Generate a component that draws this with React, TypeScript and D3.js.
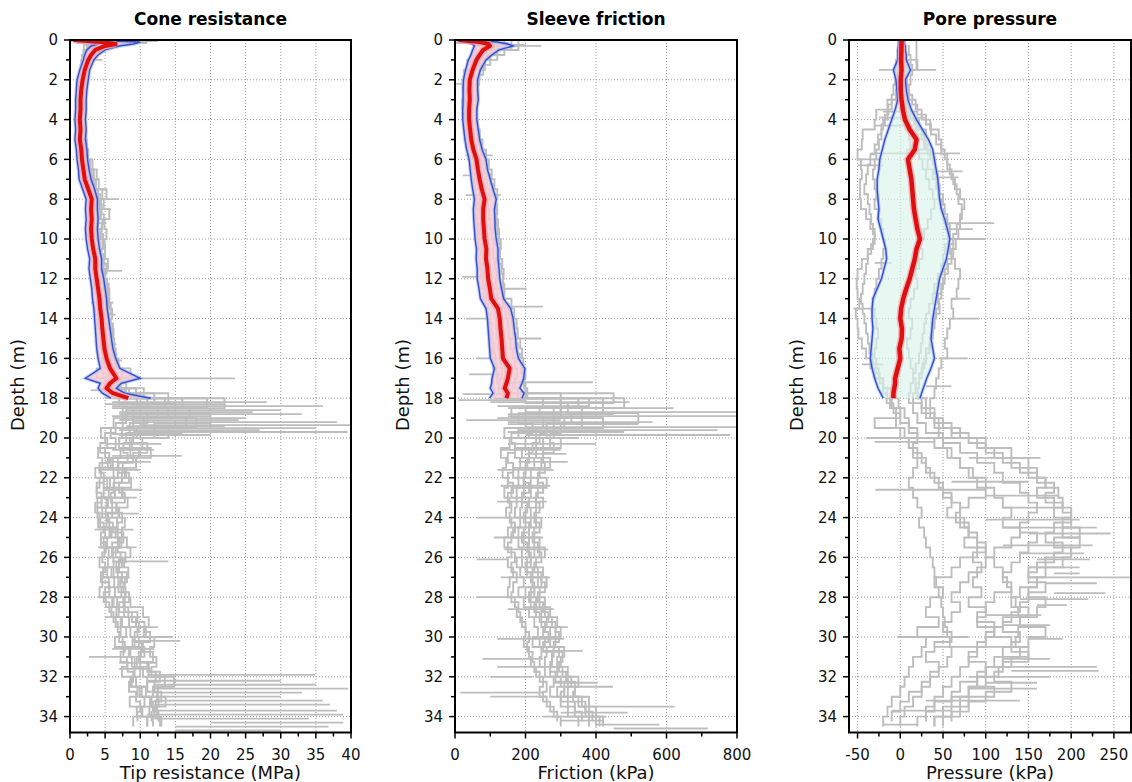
import React from "react";
import * as d3 from "d3";

// ---------- tick labels ----------
const depthTicks = [0, 2, 4, 6, 8, 10, 12, 14, 16, 18, 20, 22, 24, 26, 28, 30, 32, 34];
const coneTicks = [0, 5, 10, 15, 20, 25, 30, 35, 40];
const frictionTicks = [0, 200, 400, 600, 800];
const poreTicks = [-50, 0, 50, 100, 150, 200, 250];

// ---------- mean +/- std profiles (0-18 m) ----------
const meanDepth = [0, 0.1, 0.2, 0.3, 0.5, 0.75, 1, 1.5, 2, 2.5, 3, 3.5, 4, 4.5, 5, 5.5, 6, 6.5, 7, 7.5, 8, 8.5, 9, 9.5, 10, 10.5, 11, 11.5, 12, 12.5, 13, 13.5, 14, 14.5, 15, 15.5, 16, 16.5, 17, 17.25, 17.5, 17.75, 18];

const coneMean = [0.5, 4.5, 6.5, 5.0, 3.6, 3.0, 2.6, 2.1, 1.8, 1.6, 1.5, 1.5, 1.4, 1.5, 1.4, 1.6, 1.7, 1.9, 2.1, 2.6, 3.1, 3.0, 3.1, 3.0, 3.1, 3.3, 3.6, 3.6, 3.8, 4.0, 4.2, 4.3, 4.5, 4.6, 4.75, 4.9, 5.2, 5.7, 6.6, 5.7, 5.2, 6.1, 8.3];
const coneLo = [0.2, 2.5, 4.0, 3.0, 2.4, 2.1, 1.9, 1.4, 1.0, 0.9, 0.8, 0.8, 0.7, 0.8, 0.7, 0.9, 1.0, 1.2, 1.3, 1.8, 2.3, 2.2, 2.3, 2.2, 2.3, 2.5, 2.8, 2.7, 2.9, 3.1, 3.2, 3.4, 3.5, 3.6, 3.7, 3.8, 4.0, 4.3, 2.2, 4.3, 4.0, 4.6, 5.8];
const coneHi = [1.5, 10.0, 9.0, 7.0, 5.0, 4.0, 3.4, 2.8, 2.6, 2.4, 2.3, 2.3, 2.2, 2.3, 2.2, 2.4, 2.5, 2.7, 3.0, 3.5, 3.9, 3.9, 4.0, 3.9, 4.0, 4.2, 4.5, 4.5, 4.8, 5.0, 5.2, 5.3, 5.5, 5.7, 5.9, 6.1, 6.5, 7.1, 10.0, 7.3, 6.6, 7.8, 11.5];

const frictionMean = [10, 70, 95, 99, 80, 70, 61, 50, 42, 41, 42, 40, 40, 43, 46, 52, 61, 65, 70, 76, 84, 80, 80, 82, 84, 89, 88, 92, 94, 99, 103, 122, 127, 129, 132, 134, 136, 155, 150, 146, 141, 150, 146];
const frictionLo = [2, 30, 50, 55, 50, 45, 38, 30, 24, 23, 23, 22, 22, 25, 28, 33, 40, 43, 46, 50, 55, 52, 53, 55, 57, 61, 60, 63, 63, 68, 72, 88, 92, 94, 96, 98, 100, 112, 105, 104, 100, 108, 98];
const frictionHi = [25, 120, 150, 165, 125, 105, 88, 72, 64, 64, 66, 62, 62, 66, 70, 77, 88, 92, 100, 108, 117, 112, 113, 114, 117, 122, 122, 125, 127, 132, 138, 158, 165, 168, 172, 174, 180, 198, 195, 190, 184, 196, 190];

const poreMean = [1.6, 1.5, 1.5, 1.4, 1.3, 1.2, 1.0, 1.5, 0.5, 0.5, 1.5, 3.0, 5.5, 11, 19, 17, 9, 11, 13, 14, 15, 16, 18, 20, 23, 19, 17, 14, 11, 7, 3.5, 1, 0, 2, 1.6, -1, 0, -3, -6, -6, -7, -8, -8];
const poreLo = [-2, -2, -2, -2, -3, -3, -3, -8, -5, -4, -3, -6, -10, -14, -18, -21, -24, -25, -27, -27, -26, -25, -26, -23, -20, -17, -16, -19, -22, -27, -32, -33, -33, -32, -33, -34, -35, -33, -30, -28, -26, -23, -20];
const poreHi = [5, 5, 5, 6, 6, 7, 7, 12, 6, 7, 9, 13, 19, 26, 33, 38, 40, 42, 44, 45, 46, 48, 52, 55, 58, 56, 54, 50, 46, 44, 42, 40, 38, 37, 36, 38, 40, 36, 31, 29, 27, 25, 23];

// ---------- individual soundings (grey) ----------
const traceDepth = [
  0, 0.5, 1, 1.5, 2, 2.5, 3, 3.5, 4, 4.5,
  5, 5.5, 6, 6.5, 7, 7.5, 8, 8.5, 9, 9.5,
  10, 10.5, 11, 11.5, 12, 12.5, 13, 13.5, 14, 14.5,
  15, 15.5, 16, 16.5, 17, 17.5, 18, 18.5, 19, 19.5,
  20, 20.5, 21, 21.5, 22, 22.5, 23, 23.5, 24, 24.5,
  25, 25.5, 26, 26.5, 27, 27.5, 28, 28.5, 29, 29.5,
  30, 30.5, 31, 31.5, 32, 32.5, 33, 33.5, 34, 34.5];
const traceDepthB = [
  0.25, 0.75, 1.25, 1.75, 2.25, 2.75, 3.25, 3.75, 4.25, 4.75,
  5.25, 5.75, 6.25, 6.75, 7.25, 7.75, 8.25, 8.75, 9.25, 9.75,
  10.25, 10.75, 11.25, 11.75, 12.25, 12.75, 13.25, 13.75, 14.25, 14.75,
  15.25, 15.75, 16.25, 16.75, 17.25, 17.75, 18.25, 18.75, 19.25, 19.75,
  20.25, 20.75, 21.25, 21.75, 22.25, 22.75, 23.25, 23.75, 24.25, 24.75,
  25.25, 25.75, 26.25, 26.75, 27.25, 27.75, 28.25, 28.75, 29.25, 29.75,
  30.25, 30.75, 31.25, 31.75, 32.25, 32.75, 33.25, 33.75, 34.25];

const coneTraceA = [
  9.5, 4.2, 3.0, 2.4, 2.0, 1.8, 1.6, 1.5, 1.3, 1.5,
  1.6, 1.9, 2.3, 2.8, 3.1, 3.7, 4.6, 4.2, 4.4, 4.0,
  4.3, 4.6, 4.4, 4.8, 4.6, 5.0, 5.3, 5.6, 5.4, 5.8,
  6.0, 6.3, 6.1, 6.6, 7.5, 6.2, 9.4, 16.0, 12.5, 9.0,
  7.4, 8.8, 7.2, 6.1, 6.8, 5.7, 6.4, 5.2, 6.0, 6.7,
  5.9, 7.3, 6.5, 7.0, 6.2, 6.9, 6.4, 7.6, 8.3, 9.4,
  10.5, 9.2, 10.6, 10.0, 11.2, 13.5, 11.8, 12.6, 11.3, 13.0];
const coneTraceB = [
  3.0, 2.6, 1.9, 1.6, 1.4, 1.3, 1.2, 1.1, 1.0, 1.2,
  1.3, 1.5, 1.8, 2.0, 2.3, 2.6, 2.9, 3.1, 2.8, 3.2,
  3.3, 3.0, 3.4, 3.2, 3.6, 3.4, 3.8, 4.0, 4.2, 4.0,
  4.5, 4.3, 4.7, 4.6, 3.8, 4.9, 6.0, 11.0, 7.5, 6.2,
  4.4, 5.3, 4.0, 4.6, 3.6, 4.2, 3.8, 4.5, 3.9, 4.3,
  5.0, 4.4, 4.9, 4.2, 5.3, 4.6, 4.2, 5.1, 5.9, 6.5,
  7.2, 6.4, 7.6, 8.1, 7.4, 8.8, 9.6, 8.5, 10.2, 9.0];
const coneTraceC = [
  5.5, 3.6, 2.8, 2.3, 2.2, 2.4, 2.1, 2.0, 1.9, 2.0,
  2.2, 2.4, 2.6, 3.2, 3.8, 4.1, 5.2, 4.8, 5.6, 4.9,
  5.2, 4.7, 5.0, 5.4, 4.8, 5.3, 5.6, 5.2, 6.0, 5.7,
  6.2, 5.8, 6.5, 6.9, 5.6, 7.2, 10.5, 19.5, 14.0, 16.5,
  9.5, 10.3, 8.6, 9.4, 7.8, 8.7, 7.5, 8.2, 7.0, 7.8,
  7.4, 8.1, 8.6, 7.7, 8.3, 7.2, 7.9, 8.6, 10.4, 11.2,
  10.8, 12.0, 11.4, 12.3, 11.6, 14.8, 12.5, 13.6, 12.0, 12.8];
const coneTraceD = [
  1.5, 3.0, 2.2, 1.9, 1.7, 1.5, 1.4, 1.3, 1.2, 1.4,
  1.5, 1.6, 2.1, 2.5, 2.9, 3.4, 3.6, 3.9, 3.5, 3.9,
  3.7, 4.2, 3.8, 4.0, 4.4, 4.1, 4.6, 4.8, 4.6, 5.0,
  4.8, 5.1, 5.4, 5.2, 6.4, 5.0, 7.8, 13.5, 9.0, 18.0,
  12.0, 7.0, 9.8, 5.4, 6.2, 4.8, 5.5, 3.9, 5.1, 4.0,
  5.6, 4.8, 5.5, 6.2, 4.7, 5.5, 5.0, 6.0, 6.6, 7.2,
  8.6, 9.8, 8.4, 9.2, 10.0, 9.4, 10.8, 11.6, 10.3, 11.0];
const coneTraceE = [
  7.8, 5.0, 3.4, 2.7, 2.4, 2.0, 1.9, 1.8, 1.7, 1.8,
  2.0, 2.1, 2.4, 2.9, 3.4, 3.7, 4.0, 4.4, 4.1, 4.6,
  4.4, 4.9, 4.5, 4.3, 5.0, 4.7, 5.1, 5.4, 5.1, 5.5,
  5.3, 5.7, 6.0, 5.8, 8.6, 6.6, 8.4, 22.0, 17.0, 10.5,
  14.0, 8.5, 11.5, 6.8, 8.0, 6.3, 7.4, 6.0, 6.9, 5.6,
  6.5, 7.0, 6.1, 7.4, 6.8, 7.8, 7.3, 6.7, 7.7, 8.4,
  9.6, 8.9, 10.1, 9.5, 10.4, 11.0, 10.2, 11.4, 12.4, 11.0];
const coneTraceF = [
  0.8, 2.4, 2.0, 1.7, 1.5, 1.4, 1.5, 1.3, 1.4, 1.3,
  1.4, 1.8, 1.7, 2.2, 2.6, 3.0, 3.2, 3.4, 3.3, 3.5,
  3.6, 3.4, 3.7, 3.6, 3.9, 3.8, 4.2, 4.4, 4.3, 4.6,
  4.4, 4.7, 5.0, 4.9, 5.5, 5.3, 6.8, 9.5, 8.0, 7.5,
  5.8, 6.5, 5.0, 5.8, 4.4, 5.3, 4.8, 5.4, 4.6, 5.2,
  5.8, 5.3, 6.0, 5.4, 5.9, 6.3, 5.6, 6.2, 6.9, 7.4,
  8.0, 7.5, 8.6, 8.8, 9.2, 8.6, 9.9, 10.6, 9.5, 11.8];
const coneTraceG = [
  6.0, 3.2, 2.5, 2.0, 1.8, 1.6, 1.5, 1.4, 1.6, 1.5,
  1.7, 1.9, 2.2, 2.6, 3.0, 3.5, 4.0, 3.7, 3.9, 3.6,
  4.0, 4.2, 3.9, 4.3, 4.5, 4.3, 4.9, 5.0, 4.8, 5.3,
  5.1, 5.5, 5.7, 5.9, 6.8, 7.0, 12.0, 15.0, 11.0, 8.5,
  9.0, 7.6, 8.2, 6.9, 7.4, 6.2, 5.8, 6.6, 5.4, 6.1,
  6.8, 6.0, 7.2, 6.6, 7.4, 6.9, 7.8, 7.0, 8.8, 9.8,
  9.2, 10.4, 9.8, 11.0, 12.2, 11.0, 12.4, 11.8, 12.6];
const coneTraceH = [
  2.2, 2.0, 1.7, 1.5, 1.3, 1.2, 1.1, 1.2, 1.1, 1.3,
  1.4, 1.6, 1.9, 2.1, 2.5, 2.8, 3.2, 3.0, 3.3, 3.1,
  3.4, 3.2, 3.6, 3.5, 3.8, 3.9, 4.1, 4.3, 4.0, 4.4,
  4.6, 4.5, 4.8, 4.6, 5.2, 4.8, 7.0, 10.0, 8.0, 6.5,
  5.0, 4.3, 5.6, 4.2, 4.8, 3.8, 4.5, 3.6, 4.2, 4.8,
  4.4, 5.1, 4.6, 5.0, 4.4, 5.6, 4.8, 5.6, 6.2, 6.8,
  7.0, 7.8, 7.2, 8.2, 9.0, 8.4, 9.4, 10.0, 9.6];
const coneTraceI = [
  4.0, 2.9, 2.3, 2.1, 1.9, 1.8, 1.7, 1.6, 1.5, 1.7,
  1.8, 2.0, 2.3, 2.7, 3.2, 3.6, 4.3, 4.5, 4.8, 4.5,
  4.7, 5.0, 4.8, 5.2, 5.0, 5.5, 5.4, 5.8, 5.6, 6.1,
  5.9, 6.3, 6.6, 6.3, 7.4, 8.0, 14.0, 9.0, 20.0, 12.0,
  8.0, 11.0, 9.0, 7.5, 8.4, 7.0, 7.8, 6.6, 7.4, 6.8,
  7.6, 6.8, 7.9, 7.0, 8.1, 7.6, 8.4, 7.8, 9.6, 10.6,
  11.4, 10.2, 11.8, 11.2, 12.8, 12.0, 13.0, 12.2, 11.6];

const frictionTraceA = [
  20, 140, 90, 60, 45, 40, 42, 38, 36, 40,
  45, 52, 58, 64, 70, 76, 86, 82, 80, 84,
  86, 92, 90, 94, 98, 102, 106, 118, 126, 130,
  132, 136, 140, 148, 150, 144, 150, 380, 240, 310,
  210, 230, 190, 205, 180, 195, 175, 190, 185, 200,
  180, 195, 210, 190, 205, 220, 200, 215, 230, 245,
  250, 240, 260, 255, 270, 300, 290, 320, 340, 380];
const frictionTraceB = [
  5, 60, 50, 35, 25, 22, 24, 20, 22, 25,
  28, 32, 38, 44, 48, 52, 56, 60, 58, 62,
  64, 68, 66, 72, 74, 78, 82, 86, 92, 96,
  98, 100, 104, 108, 110, 106, 112, 250, 160, 200,
  140, 155, 130, 145, 135, 150, 140, 155, 145, 160,
  150, 140, 160, 150, 165, 155, 150, 170, 175, 190,
  200, 195, 210, 215, 230, 250, 240, 260, 280, 300];
const frictionTraceC = [
  60, 180, 120, 85, 70, 65, 66, 62, 60, 64,
  70, 78, 88, 96, 104, 112, 120, 116, 118, 122,
  125, 130, 128, 134, 138, 136, 140, 160, 168, 175,
  178, 185, 190, 194, 200, 196, 205, 480, 360, 420,
  280, 300, 250, 270, 240, 260, 235, 250, 230, 245,
  225, 240, 255, 230, 250, 260, 240, 255, 270, 290,
  300, 285, 310, 300, 320, 350, 340, 380, 400, 420];
const frictionTraceD = [
  30, 100, 70, 50, 38, 34, 36, 32, 30, 33,
  38, 44, 50, 56, 62, 66, 72, 70, 74, 76,
  78, 84, 82, 88, 90, 92, 96, 104, 112, 116,
  118, 122, 126, 130, 134, 128, 136, 300, 200, 360,
  180, 200, 170, 185, 165, 180, 160, 175, 170, 185,
  165, 180, 190, 175, 185, 195, 180, 195, 210, 225,
  235, 220, 245, 240, 255, 280, 270, 300, 320, 350];
const frictionTraceE = [
  10, 120, 80, 55, 42, 38, 40, 36, 34, 37,
  42, 48, 54, 60, 66, 72, 80, 76, 78, 80,
  82, 88, 86, 90, 94, 96, 100, 112, 120, 122,
  126, 130, 134, 140, 142, 138, 145, 420, 280, 250,
  230, 250, 210, 225, 200, 215, 195, 210, 200, 215,
  195, 210, 225, 205, 220, 235, 215, 230, 245, 260,
  270, 255, 280, 275, 290, 320, 310, 350, 370, 400];
const frictionTraceF = [
  45, 160, 100, 70, 55, 50, 52, 48, 46, 50,
  55, 62, 70, 78, 84, 90, 98, 94, 96, 100,
  104, 110, 108, 114, 118, 116, 120, 136, 144, 150,
  152, 158, 164, 170, 176, 170, 178, 350, 300, 280,
  260, 270, 230, 245, 215, 235, 215, 230, 215, 230,
  210, 225, 240, 215, 235, 245, 225, 240, 255, 275,
  285, 270, 295, 290, 305, 330, 320, 360, 380, 410];
const frictionTraceG = [
  150, 110, 75, 55, 45, 42, 40, 38, 40, 44,
  48, 55, 62, 68, 74, 80, 84, 88, 86, 90,
  94, 92, 98, 100, 104, 108, 112, 124, 130, 134,
  138, 142, 146, 150, 156, 162, 300, 420, 330, 260,
  240, 220, 210, 200, 195, 210, 190, 205, 195, 210,
  190, 205, 215, 200, 215, 225, 210, 225, 240, 255,
  265, 250, 275, 270, 285, 310, 300, 340, 360];
const frictionTraceH = [
  80, 60, 45, 35, 30, 28, 26, 25, 27, 30,
  34, 38, 44, 50, 54, 58, 62, 66, 64, 68,
  70, 74, 72, 78, 80, 84, 88, 94, 100, 104,
  106, 110, 114, 118, 120, 124, 200, 300, 180, 220,
  160, 170, 150, 165, 150, 165, 150, 160, 155, 170,
  160, 150, 170, 160, 175, 165, 160, 180, 185, 200,
  210, 205, 220, 225, 240, 260, 250, 270, 290];
const frictionTraceI = [
  200, 140, 100, 80, 68, 62, 60, 58, 60, 64,
  68, 76, 84, 92, 100, 108, 114, 120, 116, 120,
  124, 128, 126, 132, 136, 140, 138, 152, 160, 166,
  172, 178, 184, 188, 194, 200, 450, 320, 520, 300,
  270, 280, 250, 255, 235, 250, 230, 240, 225, 240,
  220, 235, 245, 225, 245, 255, 235, 250, 265, 285,
  295, 280, 305, 295, 315, 340, 335, 370, 390];

const poreTraceA = [
  2, 4, 3, 20, 2, 1, 3, 8, 12, 22,
  30, 28, 22, 26, 30, 34, 38, 40, 36, 32,
  28, 24, 26, 22, 18, 20, 16, 12, 10, 14,
  12, 8, 10, 12, 15, 18, 20, 25, 30, 45,
  60, 90, 110, 130, 150, 170, 160, 180, 200, 190,
  210, 180, 200, 170, 150, 160, 140, 130, 150, 120,
  110, 130, 150, 120, 100, 90, 110, 80, 70, 40];
const poreTraceB = [
  0, -1, -2, -5, -3, -4, -3, -15, -28, -30,
  -44, -45, -50, -46, -45, -47, -47, -46, -40, -35,
  -30, -32, -38, -45, -50, -51, -50, -48, -52, -50,
  -49, -45, -40, -35, -30, -20, -10, -12, -5, -30,
  0, 10, 20, 30, 35, 45, 50, 60, 55, 70,
  80, 75, 90, 70, 60, 40, 50, 35, 30, 45,
  20, 30, 25, 15, 10, 5, 0, -10, -15, -20];
const poreTraceC = [
  3, 3, 4, 8, 6, 8, 10, 18, 25, 35,
  45, 48, 52, 55, 60, 64, 70, 75, 72, 70,
  68, 65, 62, 64, 70, 68, 66, 60, 62, 58,
  55, 52, 55, 48, 45, 42, 40, 35, 40, 50,
  70, 100, 130, 150, 160, 170, 185, 190, 180, 200,
  190, 210, 200, 190, 170, 160, 150, 170, 160, 140,
  170, 150, 140, 130, 115, 100, 80, 60, 50, 40];
const poreTraceD = [
  1, 1, 0, 1, 2, 1, 0, 2, 4, 6,
  10, 12, 8, 10, 14, 12, 16, 18, 20, 22,
  25, 20, 18, 15, 12, 8, 5, 2, 4, 0,
  2, -2, -4, -2, -6, -8, -5, -2, 5, 10,
  20, 40, 55, 70, 85, 100, 110, 120, 130, 120,
  140, 130, 110, 100, 90, 85, 95, 80, 100, 90,
  110, 100, 90, 80, 70, 60, 50, 40, 30, 20];
const poreTraceE = [
  0, 0, 1, 1, 0, -2, -5, -10, -15, -20,
  -22, -25, -28, -30, -32, -30, -28, -30, -26, -22,
  -20, -18, -20, -22, -25, -28, -30, -32, -30, -28,
  -26, -28, -30, -28, -25, -20, -15, -10, 0, -5,
  5, 10, 15, 20, 15, 10, 15, 20, 25, 22,
  28, 30, 35, 38, 40, 42, 45, 48, 50, 52,
  55, 58, 60, 55, 45, 35, 25, 15, 5, 0];
const poreTraceF = [
  18, 19, 19, 19, 8, 6, 5, 6, 10, 18,
  25, 30, 35, 32, 38, 42, 45, 48, 50, 55,
  58, 62, 60, 55, 52, 50, 48, 45, 42, 40,
  38, 35, 30, 28, 25, 22, 20, 30, 35, 40,
  45, 50, 60, 70, 80, 90, 100, 80, 70, 75,
  80, 90, 100, 110, 120, 125, 130, 135, 138, 140,
  138, 135, 120, 110, 100, 90, 80, 70, 60, 50];
const poreTraceG = [
  5, 5, 6, 6, 5, 4, 6, 10, 16, 20,
  28, 32, 38, 40, 44, 46, 50, 52, 55, 58,
  56, 52, 50, 48, 44, 40, 38, 34, 30, 28,
  26, 24, 22, 18, 15, 12, 10, 15, 20, 30,
  50, 70, 90, 110, 120, 140, 150, 160, 150, 140,
  160, 150, 140, 130, 120, 130, 110, 100, 90, 110,
  100, 90, 80, 100, 90, 70, 60, 40, 30];
const poreTraceH = [
  -1, -2, -3, -4, -6, -8, -10, -14, -18, -22,
  -26, -30, -35, -38, -40, -42, -38, -36, -34, -32,
  -30, -34, -38, -40, -42, -44, -46, -44, -42, -40,
  -38, -36, -32, -28, -24, -20, -16, -8, 0, 10,
  20, 15, 25, 30, 40, 50, 60, 70, 65, 80,
  90, 100, 85, 95, 80, 70, 60, 70, 60, 50,
  60, 40, 30, 45, 35, 25, 10, 0, -10];
const poreTraceI = [
  10, 10, 12, 14, 12, 10, 14, 20, 30, 36,
  42, 48, 55, 58, 62, 66, 68, 72, 70, 66,
  62, 58, 60, 56, 52, 48, 44, 46, 40, 38,
  36, 34, 30, 26, 22, 18, 15, 25, 40, 60,
  80, 100, 120, 140, 160, 180, 170, 190, 200, 180,
  170, 190, 180, 160, 150, 170, 150, 140, 130, 120,
  140, 130, 150, 120, 110, 130, 100, 80, 60];

// spikes: [depth, from, to]
const coneSpikes: [number, number, number][] = [
  [0.05, 0, 12.5], [0.15, 1, 11], [1.0, 2, 4.6], [8.0, 3, 6.9], [8.5, 3, 5.8], [9.2, 3, 5.2],
  [11.6, 3, 7.4], [13.2, 3, 6.2], [13.8, 3.5, 6.5], [15.3, 4, 6.6], [16.1, 4.5, 7.4],
  [17.0, 2, 23.5], [17.6, 3, 7.5], [18.0, 5, 13.3], [18.2, 6, 28], [18.3, 5, 22], [18.4, 6, 36],
  [18.5, 6, 18], [18.6, 8, 30], [18.7, 7, 26], [18.8, 7, 33], [18.9, 6, 20], [19.0, 8, 25],
  [19.1, 7, 24], [19.2, 9, 38], [19.35, 10, 40], [19.4, 8, 22], [19.5, 8, 35], [19.6, 7, 27],
  [19.7, 9, 39.5], [19.8, 6, 16], [19.85, 7, 20], [20.3, 5, 13], [20.6, 6, 12], [20.9, 6, 15.9],
  [21.2, 5, 11.5], [21.6, 4, 10], [22.6, 5, 10.3], [23.0, 4, 9.5], [23.8, 4, 9.8], [24.6, 3.5, 9],
  [25.5, 4, 9.5], [26.2, 6, 14], [27.0, 4.5, 8.5], [28.0, 4, 8.6], [29.0, 5, 10], [29.5, 8, 12.5],
  [30.0, 9, 14.5], [30.2, 9, 15.7], [30.6, 6, 12], [31.0, 2.7, 9], [31.3, 7, 12.3], [31.6, 7, 11.5],
  [31.9, 11, 34.9], [32.2, 11, 30], [32.4, 12, 35], [32.6, 12, 39.6], [32.8, 12, 33], [33.0, 11, 30],
  [33.2, 12, 36], [33.4, 12, 37], [33.7, 12, 38], [33.9, 11, 38.9], [34.1, 12, 34], [34.3, 20, 38.9],
  [34.5, 15, 36.8], [34.7, 15, 30]];

const frictionSpikes: [number, number, number][] = [
  [0.15, 0, 150], [0.3, 50, 245], [2.2, 4, 50], [5.8, 30, 107], [6.8, 22, 60], [7.8, 30, 130],
  [11.9, 20, 110], [12.5, 80, 203], [13.4, 120, 249], [14.0, 32, 100], [15.0, 150, 245],
  [16.0, 60, 120], [16.8, 40, 130], [17.2, 150, 391], [17.8, 22, 150], [18.1, 10, 200],
  [18.2, 100, 495], [18.4, 120, 380], [18.5, 150, 620], [18.7, 200, 800], [18.8, 150, 450],
  [18.9, 150, 800], [19.0, 120, 420], [19.1, 32, 300], [19.2, 150, 560], [19.3, 150, 520],
  [19.45, 200, 800], [19.6, 180, 745], [19.7, 150, 480], [19.85, 200, 780], [20.0, 150, 350],
  [20.3, 150, 400], [20.6, 130, 300], [20.8, 200, 316], [21.2, 180, 320], [21.6, 120, 280],
  [22.4, 130, 270], [23.2, 120, 260], [24.0, 60, 240], [25.0, 110, 250], [25.6, 140, 265],
  [26.1, 61, 150], [27.0, 130, 270], [28.0, 61, 200], [28.6, 150, 280], [29.5, 250, 320],
  [30.1, 120, 310], [30.7, 250, 362], [31.1, 78, 250], [31.5, 120, 300], [32.0, 100, 220],
  [32.3, 280, 405], [32.5, 300, 448], [32.8, 15, 250], [33.0, 100, 260], [33.5, 350, 623],
  [33.8, 300, 490], [34.0, 250, 430], [34.2, 300, 420], [34.4, 400, 580], [34.6, 450, 717]];

const poreSpikes: [number, number, number][] = [
  [1.5, -25, 42], [3.6, -20, 20], [3.9, -25, 30], [4.3, -30, 15], [5.7, -35, 70], [6.0, -50, -20],
  [6.3, -50, -20], [6.6, 40, 73], [6.9, 40, 68], [9.2, 50, 110], [9.5, 50, 85], [10.0, 50, 100],
  [11.2, -30, -10], [13.0, 60, 82], [13.5, -55, -30], [14.0, 60, 93], [16.0, 45, 79], [16.3, -45, -20],
  [17.4, 30, 60], [20.0, -40, 62], [20.2, -30, 40], [21.0, 80, 164], [22.2, 60, 150], [22.6, -29, 100],
  [22.9, 100, 186], [23.5, 120, 180], [24.1, 100, 210], [24.5, 120, 230], [24.8, 150, 246],
  [25.4, 120, 225], [25.8, 140, 215], [26.1, 160, 222], [26.5, 150, 210], [26.8, 180, 210],
  [27.0, 150, 270], [27.3, 170, 230], [27.8, 180, 240], [28.1, 140, 220], [28.4, 160, 195],
  [28.9, 100, 165], [29.4, 120, 175], [30.0, -3, 80], [30.1, 150, 190], [30.5, 40, 140],
  [31.1, 120, 175], [31.5, 100, 230], [31.7, 130, 232], [32.0, 80, 175], [32.3, 100, 160],
  [32.6, 80, 160], [33.2, 30, 140], [33.7, -10, 60], [34.4, -20, 20]];

// ---------- layout ----------
const WIDTH = 1132;
const HEIGHT = 782;
const PLOT_TOP = 40;
const PLOT_BOTTOM = 732.5;
const DEPTH_MAX = 34.8;
const FONT = "'DejaVu Sans', Verdana, sans-serif";

type Trace = { depth: number[]; values: number[] };

type PanelCfg = {
  id: string;
  title: string;
  xLabel: string;
  left: number;
  right: number;
  domain: [number, number];
  ticks: number[];
  minorStep: number;
  mean: number[];
  lo: number[];
  hi: number[];
  traces: Trace[];
  spikes: [number, number, number][];
  band: string;
  bandOpacity: number;
  redWidth: number;
};

const panels: PanelCfg[] = [
  {
    id: "cone", title: "Cone resistance", xLabel: "Tip resistance (MPa)",
    left: 70, right: 351, domain: [0, 40], ticks: coneTicks, minorStep: 2.5,
    mean: coneMean, lo: coneLo, hi: coneHi,
    traces: [
      { depth: traceDepth, values: coneTraceA }, { depth: traceDepth, values: coneTraceB },
      { depth: traceDepth, values: coneTraceC }, { depth: traceDepth, values: coneTraceD },
      { depth: traceDepth, values: coneTraceE }, { depth: traceDepth, values: coneTraceF },
      { depth: traceDepthB, values: coneTraceG }, { depth: traceDepthB, values: coneTraceH },
      { depth: traceDepthB, values: coneTraceI },
    ],
    spikes: coneSpikes, band: "#f6cdd6", bandOpacity: 0.85, redWidth: 4,
  },
  {
    id: "friction", title: "Sleeve friction", xLabel: "Friction (kPa)",
    left: 455, right: 737, domain: [0, 800], ticks: frictionTicks, minorStep: 100,
    mean: frictionMean, lo: frictionLo, hi: frictionHi,
    traces: [
      { depth: traceDepth, values: frictionTraceA }, { depth: traceDepth, values: frictionTraceB },
      { depth: traceDepth, values: frictionTraceC }, { depth: traceDepth, values: frictionTraceD },
      { depth: traceDepth, values: frictionTraceE }, { depth: traceDepth, values: frictionTraceF },
      { depth: traceDepthB, values: frictionTraceG }, { depth: traceDepthB, values: frictionTraceH },
      { depth: traceDepthB, values: frictionTraceI },
    ],
    spikes: frictionSpikes, band: "#f6cdd6", bandOpacity: 0.85, redWidth: 4,
  },
  {
    id: "pore", title: "Pore pressure", xLabel: "Pressure (kPa)",
    left: 849, right: 1131, domain: [-60, 270], ticks: poreTicks, minorStep: 25,
    mean: poreMean, lo: poreLo, hi: poreHi,
    traces: [
      { depth: traceDepth, values: poreTraceA }, { depth: traceDepth, values: poreTraceB },
      { depth: traceDepth, values: poreTraceC }, { depth: traceDepth, values: poreTraceD },
      { depth: traceDepth, values: poreTraceE }, { depth: traceDepth, values: poreTraceF },
      { depth: traceDepthB, values: poreTraceG }, { depth: traceDepthB, values: poreTraceH },
      { depth: traceDepthB, values: poreTraceI },
    ],
    spikes: poreSpikes, band: "#d8f4ea", bandOpacity: 0.65, redWidth: 4.5,
  },
];

function Panel({ cfg }: { cfg: PanelCfg }) {
  const x = d3.scaleLinear().domain(cfg.domain).range([cfg.left, cfg.right]);
  const y = d3.scaleLinear().domain([0, DEPTH_MAX]).range([PLOT_TOP, PLOT_BOTTOM]);

  const traceLine = d3
    .line<[number, number]>()
    .x((p) => x(p[1]))
    .y((p) => y(p[0]))
    .curve(d3.curveStepAfter);

  const profileLine = (vals: number[]) =>
    d3
      .line<number>()
      .x((i) => x(vals[i]))
      .y((i) => y(meanDepth[i]))
      .curve(d3.curveLinear)(meanDepth.map((_, i) => i)) || "";

  const band =
    d3
      .area<number>()
      .y((i) => y(meanDepth[i]))
      .x0((i) => x(cfg.lo[i]))
      .x1((i) => x(cfg.hi[i]))(meanDepth.map((_, i) => i)) || "";

  const minorX = d3
    .range(cfg.ticks[0], cfg.domain[1] + 1e-6, cfg.minorStep)
    .filter((v) => !cfg.ticks.some((t) => Math.abs(t - v) < 1e-6) && v >= cfg.domain[0]);
  const minorY = d3.range(1, 35, 2);

  const clipId = `clip-${cfg.id}`;
  const cx = (cfg.left + cfg.right) / 2;
  const w = cfg.right - cfg.left;

  return (
    <g>
      <defs>
        <clipPath id={clipId}>
          <rect x={cfg.left} y={PLOT_TOP} width={w} height={PLOT_BOTTOM - PLOT_TOP} />
        </clipPath>
      </defs>

      <rect x={cfg.left} y={PLOT_TOP} width={w} height={PLOT_BOTTOM - PLOT_TOP} fill="#ffffff" />

      <g stroke="#9a9a9a" strokeWidth={1} strokeDasharray="1,2">
        {cfg.ticks
          .filter((t) => x(t) > cfg.left + 1 && x(t) < cfg.right - 1)
          .map((t) => (
            <line key={`gx${t}`} x1={x(t)} x2={x(t)} y1={PLOT_TOP} y2={PLOT_BOTTOM} />
          ))}
        {depthTicks
          .filter((t) => y(t) > PLOT_TOP + 1)
          .map((t) => (
            <line key={`gy${t}`} x1={cfg.left} x2={cfg.right} y1={y(t)} y2={y(t)} />
          ))}
      </g>

      <g clipPath={`url(#${clipId})`}>
        <g fill="none" stroke="#bdbdbd" strokeWidth={1.9}>
          {cfg.traces.map((tr, k) => {
            const pts = tr.depth
              .map((d, i) => [d, tr.values[i]] as [number, number])
              .filter((p) => p[1] !== undefined && p[1] !== null);
            return <path key={k} d={traceLine(pts) || ""} />;
          })}
          {cfg.spikes.map((s, k) => (
            <line key={`s${k}`} x1={x(s[1])} x2={x(s[2])} y1={y(s[0])} y2={y(s[0])} strokeWidth={1.8} />
          ))}
        </g>

        <path d={band} fill={cfg.band} fillOpacity={cfg.bandOpacity} stroke="none" />

        <g fill="none">
          <path d={profileLine(cfg.lo)} stroke="#9fb0ee" strokeWidth={3.5} strokeOpacity={0.6} />
          <path d={profileLine(cfg.hi)} stroke="#9fb0ee" strokeWidth={3.5} strokeOpacity={0.6} />
          <path d={profileLine(cfg.lo)} stroke="#3550cc" strokeWidth={1.4} />
          <path d={profileLine(cfg.hi)} stroke="#3550cc" strokeWidth={1.4} />
        </g>

        <path d={profileLine(cfg.mean)} fill="none" stroke="#f4a0ab" strokeWidth={cfg.redWidth + 3} strokeOpacity={0.7} />
        <path d={profileLine(cfg.mean)} fill="none" stroke="#dd0f0f" strokeWidth={cfg.redWidth} strokeLinejoin="round" />
      </g>

      <rect x={cfg.left} y={PLOT_TOP} width={w} height={PLOT_BOTTOM - PLOT_TOP} fill="none" stroke="#000" strokeWidth={2} />

      <g stroke="#000" strokeWidth={1.5}>
        {depthTicks.map((t) => (
          <line key={`ty${t}`} x1={cfg.left - 6} x2={cfg.left} y1={y(t)} y2={y(t)} />
        ))}
        {minorY.map((t) => (
          <line key={`my${t}`} x1={cfg.left - 4} x2={cfg.left} y1={y(t)} y2={y(t)} />
        ))}
        {cfg.ticks.map((t) => (
          <line key={`tx${t}`} x1={x(t)} x2={x(t)} y1={PLOT_BOTTOM} y2={PLOT_BOTTOM + 6} />
        ))}
        {minorX.map((t) => (
          <line key={`mx${t}`} x1={x(t)} x2={x(t)} y1={PLOT_BOTTOM} y2={PLOT_BOTTOM + 4} />
        ))}
      </g>

      <g fontFamily={FONT} fontSize={15} fill="#111">
        {depthTicks.map((t) => (
          <text key={`ly${t}`} x={cfg.left - 12} y={y(t)} dy="0.36em" textAnchor="end">
            {t}
          </text>
        ))}
        {cfg.ticks.map((t) => (
          <text key={`lx${t}`} x={x(t)} y={760} textAnchor="middle">
            {t}
          </text>
        ))}
      </g>

      <text x={cx} y={779} textAnchor="middle" fontFamily={FONT} fontSize={18} fill="#111">
        {cfg.xLabel}
      </text>
      <text
        transform={`translate(${cfg.left - 46},385) rotate(-90)`}
        textAnchor="middle"
        fontFamily={FONT}
        fontSize={18}
        fill="#111"
      >
        Depth (m)
      </text>
      <text x={cx} y={25} textAnchor="middle" fontFamily={FONT} fontSize={17} fontWeight="bold" fill="#000">
        {cfg.title}
      </text>
    </g>
  );
}

export default function App() {
  return (
    <svg
      width={WIDTH}
      height={HEIGHT}
      viewBox={`0 0 ${WIDTH} ${HEIGHT}`}
      style={{ position: "absolute", left: 0, top: 0, background: "#fff" }}
    >
      <rect x={0} y={0} width={WIDTH} height={HEIGHT} fill="#fff" />
      {panels.map((p) => (
        <Panel key={p.id} cfg={p} />
      ))}
    </svg>
  );
}
